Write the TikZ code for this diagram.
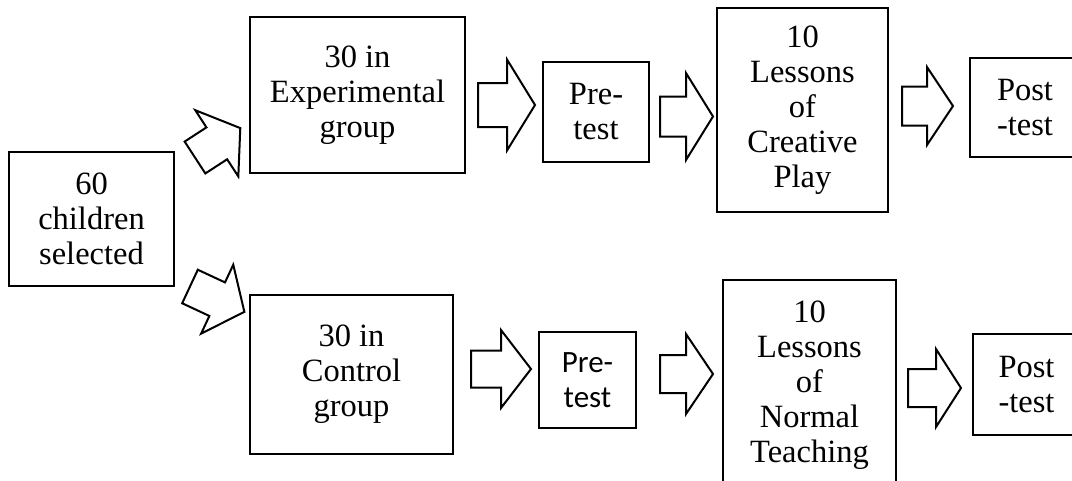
\documentclass[tikz,border=0pt]{standalone}
\usepackage{fontspec}
\setmainfont{Liberation Serif}
\newfontfamily\calibrilike{Carlito}
\begin{document}
\begin{tikzpicture}[x=1pt,y=-1pt,
  stage/.style={draw, line width=2.2pt, align=center, inner sep=0pt,
    font=\fontsize{32.5}{35}\selectfont},
  arrowline/.style={draw, line width=2pt, line join=miter, fill=white},
  pics/blockarrow/.style args={#1/#2/#3/#4}{code={
    % #1 total length, #2 head length, #3 shaft half width, #4 head half width
    \path[arrowline] (0,-#3) -- ({#1-#2},-#3) -- ({#1-#2},-#4) -- (#1,0)
      -- ({#1-#2},#4) -- ({#1-#2},#3) -- (0,#3) -- cycle;
  }}]
\useasboundingbox (0,0) rectangle (1072,480);
\clip (0,0) rectangle (1072,480);

% boxes
\node[stage, minimum width=165pt, minimum height=134pt] (sel) at (91.5,219) {60\\children\\selected};
\node[stage, minimum width=215pt, minimum height=156pt] (exp) at (357.5,95) {30 in\\Experimental\\group};
\node[stage, minimum width=203pt, minimum height=159pt] (ctl) at (351.5,374.5) {30 in\\Control\\group};
\node[stage, minimum width=106pt, minimum height=100pt] (pre1) at (596,112) {Pre-\\test};
\node[stage, minimum width=97pt, minimum height=96pt, font=\calibrilike\fontsize{31}{35}\selectfont] (pre2) at (587.5,380) {Pre-\\test};
\node[stage, minimum width=171pt, minimum height=204pt] (les1) at (802.5,110) {10\\Lessons\\of\\Creative\\Play};
\node[stage, minimum width=173pt, minimum height=210pt] (les2) at (809.5,385) {10\\Lessons\\of\\Normal\\Teaching};
\node[stage, minimum width=110pt, minimum height=99pt] (post1) at (1025,107.5) {Post\\-test};
\node[stage, minimum width=107pt, minimum height=101pt] (post2) at (1026.5,384.5) {Post\\-test};

% tails of the block arrows
\coordinate (dA) at (195,157.5);
\coordinate (dB) at (190,286.5);
\coordinate (a1) at (478,105);
\coordinate (a2) at (660,116.5);
\coordinate (a3) at (902,106);
\coordinate (b1) at (471,369);
\coordinate (b2) at (660,374);
\coordinate (b3) at (908,388);

% split into the two groups
\pic[rotate=33] at (dA) {blockarrow=54/28/19/39.5};
\pic[rotate=-25] at (dB) {blockarrow=60/30/18.5/38};

% experimental sequence
\pic at (a1) {blockarrow=57/28/22/45.5};
\pic at (a2) {blockarrow=53/27/20/43.5};
\pic at (a3) {blockarrow=51/26/19.5/39};

% control sequence
\pic at (b1) {blockarrow=60/30/18.5/39};
\pic at (b2) {blockarrow=53/27/19/40};
\pic at (b3) {blockarrow=53/25/19/39};
\end{tikzpicture}
\end{document}
